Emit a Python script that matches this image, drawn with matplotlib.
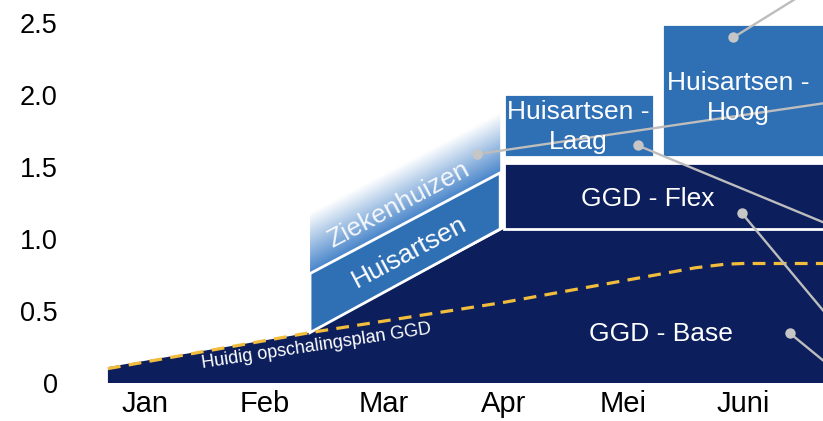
import numpy as np
import matplotlib

matplotlib.use("Agg")
import matplotlib.pyplot as plt
from matplotlib.patches import Polygon

plt.rcParams["font.family"] = ["Liberation Sans", "DejaVu Sans"]

# x in months (Jan = 0), y in the chart's own units
MONTHS = ["Jan", "Feb", "Mar", "Apr", "Mei", "Juni"]
Y_TICKS = [0, 0.5, 1.0, 1.5, 2.0, 2.5]
Y_LABELS = ["0", "0.5", "1.0", "1.5", "2.0", "2.5"]

# GGD - Base outline (top edge)
base_x = [-0.31, 1.38, 3.0, 6.0]
base_y = [0.11, 0.35, 1.07, 1.07]

# Huisartsen band (Mar -> Apr): lower and upper edge at start / end
huis_x = [1.38, 2.97]
huis_lo = [0.35, 1.07]
huis_hi = [0.76, 1.46]
zieken_depth = 0.42          # fade height of the Ziekenhuizen band

# blocks from April: (x0, x1, y0, y1)
flex = (3.0, 6.0, 1.07, 1.53)
laag = (3.0, 4.26, 1.57, 2.01)
hoog = (4.32, 6.0, 1.57, 2.49)

# Huidig opschalingsplan GGD (dashed)
plan_x = [-0.31, 1.38, 3.0, 4.6, 4.85, 5.0, 6.0]
plan_y = [0.10, 0.35, 0.56, 0.80, 0.825, 0.83, 0.83]

# leader lines: dot position -> off-canvas end
leaders = [
    ((4.92, 2.40), (5.81, 2.86)),
    ((2.78, 1.59), (5.98, 1.98)),
    ((4.12, 1.65), (5.98, 1.01)),
    ((4.99, 1.18), (5.89, 0.285)),
    ((5.39, 0.347), (5.89, 0.007)),
]

NAVY = "#0c1f5c"
BLUE = "#2f6fb4"
ZBLUE = np.array([0.28, 0.52, 0.79])
GOLD = "#f2bd3c"
GREY = "#bdbdbd"

fig = plt.figure(figsize=(8.23, 4.21), dpi=100)
W, H = 823, 421
ax = fig.add_axes([95 / W, 1 - 383 / H, (823 - 95) / W, 383 / H])

# base
bx = base_x + [base_x[-1], base_x[0]]
by = base_y + [0, 0]
ax.add_patch(Polygon(list(zip(bx, by)), closed=True, fc=NAVY, ec="none", zorder=1))

# Ziekenhuizen gradient band
xs = np.linspace(huis_x[0], huis_x[1], 200)
ys = np.linspace(0.7, 2.2, 300)
X, Y = np.meshgrid(xs, ys)
edge = np.interp(X, huis_x, huis_hi)
t = np.clip((Y - edge) / zieken_depth, 0, 1)
rgb = (1 - t)[..., None] * ZBLUE + t[..., None] * np.ones(3)
im = ax.imshow(rgb, extent=[xs[0], xs[-1], ys[0], ys[-1]], origin="lower",
               aspect="auto", zorder=1, interpolation="bilinear")
clip = Polygon([(huis_x[0], huis_hi[0]), (huis_x[1], huis_hi[1]),
                (huis_x[1], 2.2), (huis_x[0], 2.2)], transform=ax.transData)
im.set_clip_path(clip)

# Huisartsen band
ax.add_patch(Polygon([(huis_x[0], huis_lo[0]), (huis_x[1], huis_lo[1]),
                      (huis_x[1], huis_hi[1]), (huis_x[0], huis_hi[0])],
                     closed=True, fc=BLUE, ec="white", lw=2, zorder=2))

# April blocks
for (x0, x1, y0, y1), col in ((flex, NAVY), (laag, BLUE), (hoog, BLUE)):
    ax.add_patch(Polygon([(x0, y0), (x1, y0), (x1, y1), (x0, y1)], closed=True,
                         fc=col, ec="white", lw=2, zorder=2))

# dashed plan line
ax.plot(plan_x, plan_y, color=GOLD, lw=2.3, dashes=(4, 2.6), zorder=3)

# leader lines
for (x0, y0), (x1, y1) in leaders:
    ax.plot([x0, x1], [y0, y1], color=GREY, lw=1.7, zorder=4)
    ax.plot(x0, y0, "o", color="#c6c6c6", ms=7.5, mec="none", zorder=4)

# labels
txt = dict(color="white", ha="center", va="center", zorder=5)
ax.text(1.43, 0.255, "Huidig opschalingsplan GGD", fontsize=13, rotation=8.6, **txt)
ax.text(2.21, 0.91, "Huisartsen", fontsize=19, rotation=28, **txt)
ax.text(2.12, 1.24, "Ziekenhuizen", fontsize=19, rotation=28, alpha=0.9, **txt)
ax.text(3.62, 1.775, "Huisartsen -\nLaag", fontsize=19, linespacing=1.32, **txt)
ax.text(4.96, 1.98, "Huisartsen -\nHoog", fontsize=19, linespacing=1.32, **txt)
ax.text(4.2, 1.28, "GGD - Flex", fontsize=19, **txt)
ax.text(4.31, 0.34, "GGD - Base", fontsize=19, **txt)

ax.set_xlim(-0.418, 5.669)
ax.set_ylim(0, 2.66)
ax.set_xticks(range(len(MONTHS)))
ax.set_xticklabels(MONTHS, fontsize=21)
ax.set_yticks(Y_TICKS)
ax.set_yticklabels(Y_LABELS, fontsize=19.5)
ax.tick_params(length=0)
ax.tick_params(axis="y", pad=27)
ax.tick_params(axis="x", pad=5)
for s in ax.spines.values():
    s.set_visible(False)

fig.savefig("out.png", dpi=100)
